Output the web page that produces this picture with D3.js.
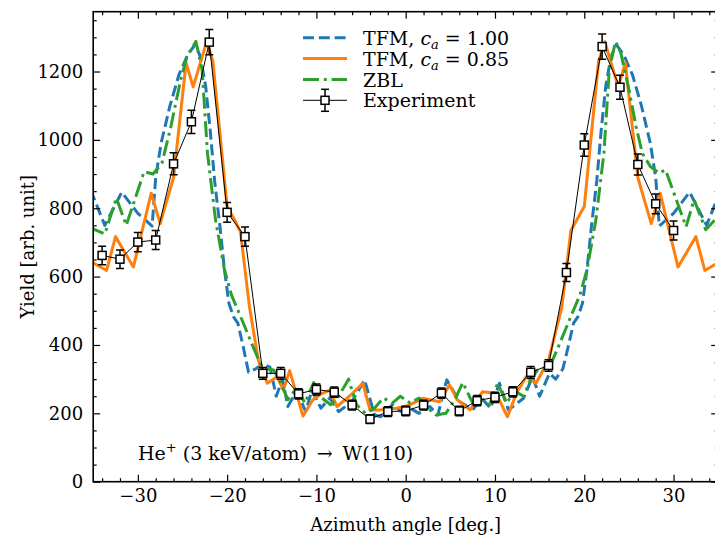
<!DOCTYPE html>
<html><head><meta charset="utf-8">
<script src="https://cdn.jsdelivr.net/npm/d3@7"></script>
<style>
html,body{margin:0;padding:0;background:#fff;}
svg{display:block;}
svg text{font-family:"DejaVu Serif","Liberation Serif",serif !important;fill:#000;}
</style></head><body>
<svg id="chart" width="715" height="538"></svg>
<script>
// ---------- data ----------
const xMajorTicks = [-30,-20,-10,0,10,20,30];
const yMajorTicks = [0,200,400,600,800,1000,1200];

const expAngle = [-34,-32,-30,-28,-26,-24,-22,-20,-18,-16,-14,-12,-10,-8,-6,-4,-2,0,2,4,6,8,10,12,14,16,18,20,22,24,26,28,30];
const expYield = [662,651,701,707,930,1053,1286,788,717,317,317,257,270,262,224,183,205,207,224,259,207,237,247,263,320,340,612,985,1273,1154,928,813,735];
const expError = [27,27,28,28,32,34,37,29,28,17,17,15,16,15,14,13,14,14,14,15,14,15,15,15,17,17,26,33,37,35,31,29,28];

const tfm100Angle = [-35.5,-35,-33.7,-31.8,-30,-28.4,-28,-27.4,-26.4,-25.4,-24.4,-23.6,-23,-22.4,-21.9,-21.4,-20.8,-20.3,-19.8,-19.3,-18.8,-18.2,-17.6,-16.8,-16,-15.2,-14.5,-13.8,-13.2,-12.2,-11.2,-10.5,-9.5,-8.5,-7.5,-6,-4.6,-3.5,-2.8,-1.5,-0.5,0.5,1.5,2.7,3.6,4.6,6,7.5,8.5,9.5,10.5,11.5,12.5,13.2,14.2,15,16.1,16.8,17.6,18.2,18.8,19.3,19.8,20.3,20.8,21.4,21.9,22.4,23,23.6,24.4,25.4,26.4,27.4,28,28.4,30,31.8,33.7,35,35.5];
const tfm100Yield = [850,835,750,847,785,748,890,990,1100,1190,1250,1278,1244,1156,1029,880,746,620,522,483,464,395,320,330,345,335,250,300,220,265,205,268,215,245,205,235,298,195,190,225,205,215,200,220,195,298,235,210,245,215,288,210,230,244,307,250,317,300,330,395,464,483,522,620,746,880,1029,1156,1244,1278,1250,1190,1100,990,890,748,785,847,750,835,850];

const tfm085Angle = [-35.5,-33.5,-32.5,-30.5,-28.5,-27.5,-26,-24.6,-23.8,-22.3,-21.6,-20,-19.2,-18.5,-17.5,-16.5,-15.5,-14.4,-13.7,-13,-11.5,-10.4,-9.4,-8.5,-7.7,-6.3,-4.8,-4,-2.9,-1,0.4,1.9,3.8,4.9,5.8,7.2,8.6,10.1,11.4,12.4,13.5,14.6,16,17.5,18.5,19.2,20,21.6,22.3,23.8,24.6,26,27.5,28.5,30.5,32.5,33.5,35.5];
const tfm085Yield = [648,618,717,628,844,755,890,1225,1155,1287,1230,805,768,730,512,355,288,307,268,325,192,240,258,268,220,250,288,210,210,215,224,244,234,283,239,210,263,259,190,259,307,288,356,512,735,768,805,1230,1287,1155,1225,890,755,844,628,717,618,648];

const zblAngle = [-35.5,-33.7,-32.4,-31.3,-29.3,-28.3,-27.3,-26.3,-25.2,-24.5,-23.5,-22.8,-22.2,-21.3,-20.3,-19.5,-18.6,-17.1,-16.3,-15.9,-14.8,-14,-13.2,-12.2,-11.3,-10.3,-9.4,-8.4,-7.5,-6.4,-5.5,-4.5,-3.5,-2.5,-1.5,-0.6,0.5,1.5,2.5,3.4,4.5,5.5,6.4,7.5,8.5,9.4,10.3,11.3,12.2,13.2,14,14.8,15.9,16.3,17.1,18.6,19.5,20.3,21.3,22.2,22.8,23.5,24.1,25,25.8,26.5,27.4,28.4,29.1,31.4,32.3,33.6,35.5];
const zblYield = [745,725,830,750,907,900,932,1039,1176,1244,1288,1205,961,766,620,545,490,395,347,332,327,290,240,275,230,290,245,225,250,300,225,200,215,245,230,250,230,245,215,195,200,240,290,230,240,225,288,230,265,250,300,327,332,347,395,490,545,620,766,961,1205,1288,1254,1147,1039,961,922,903,912,746,825,737,790];

const seriesNames = ["TFM, c_a = 1.00","TFM, c_a = 0.85","ZBL","Experiment"];
const seriesColors = ["#1f77b4","#ff7f0e","#2ca02c","#000000"];

// ---------- layout ----------
const FONT = '"DejaVu Serif","Liberation Serif",serif';
const svg = d3.select("#chart").attr("font-family",FONT);
const L = 93.2, R = 718.2, T = 11.7, B = 481.7;
const x = d3.scaleLinear().domain([-35,35]).range([L,R]);
const y = d3.scaleLinear().domain([0,1375]).range([B,T]);

svg.append("defs").append("clipPath").attr("id","plotclip")
  .append("rect").attr("x",L).attr("y",T).attr("width",R-L).attr("height",B-T);

const zip = (a,b)=>a.map((v,i)=>[v,b[i]]);
const line = d3.line().x(d=>x(d[0])).y(d=>y(d[1]));
const g = svg.append("g").attr("clip-path","url(#plotclip)");

const theory = [
  {pts: zip(tfm100Angle,tfm100Yield), color: seriesColors[0], dash: "11,4.8"},
  {pts: zip(tfm085Angle,tfm085Yield), color: seriesColors[1], dash: null},
  {pts: zip(zblAngle,zblYield), color: seriesColors[2], dash: "16,4.8,3,4.8"}
];
theory.forEach(s=>{
  const p = g.append("path").attr("d",line(s.pts)).attr("fill","none")
    .attr("stroke",s.color).attr("stroke-width",3).attr("stroke-linejoin","round");
  if (s.dash) p.attr("stroke-dasharray",s.dash); else p.attr("stroke-linecap","round");
});

// experiment
const expPts = zip(expAngle,expYield);
g.append("path").attr("d",line(expPts)).attr("fill","none").attr("stroke","#000").attr("stroke-width",1);
const eb = g.append("g");
expPts.forEach((d,i)=>{
  const cx = x(d[0]), y0 = y(d[1]-expError[i]), y1 = y(d[1]+expError[i]);
  eb.append("line").attr("x1",cx).attr("x2",cx).attr("y1",y0).attr("y2",y1).attr("stroke","#000").attr("stroke-width",1.5);
  eb.append("line").attr("x1",cx-4).attr("x2",cx+4).attr("y1",y0).attr("y2",y0).attr("stroke","#000").attr("stroke-width",1.5);
  eb.append("line").attr("x1",cx-4).attr("x2",cx+4).attr("y1",y1).attr("y2",y1).attr("stroke","#000").attr("stroke-width",1.5);
  eb.append("rect").attr("x",cx-4).attr("y",y(d[1])-4).attr("width",8).attr("height",8)
    .attr("fill","#fff").attr("stroke","#000").attr("stroke-width",1.5);
});

// ---------- axes ----------
const xMinor = d3.range(-34,35,2).filter(v=>v%10!==0);
const yMinor = d3.range(50,1376,50).filter(v=>v%200!==0);
function styleAxis(sel, fs){
  sel.attr("font-family",FONT);
  sel.select(".domain").remove();
  sel.selectAll(".tick line").attr("stroke","#000").attr("stroke-width",1.2);
  sel.selectAll(".tick text").style("font-size",fs+"px").style("font-family",FONT).attr("fill","#000");
}
const fmt = d=> d<0 ? "\u2212"+Math.abs(d) : String(d);
const TF = 18;
svg.append("g").attr("transform",`translate(0,${B})`)
  .call(d3.axisBottom(x).tickValues(xMajorTicks).tickSize(-7).tickPadding(8).tickFormat(fmt))
  .call(s=>styleAxis(s,TF));
svg.append("g").attr("transform",`translate(0,${B})`)
  .call(d3.axisBottom(x).tickValues(xMinor).tickSize(-3.5).tickFormat(""))
  .call(s=>styleAxis(s,TF));
svg.append("g").attr("transform",`translate(0,${T})`)
  .call(d3.axisTop(x).tickValues(xMajorTicks).tickSize(-7).tickFormat(""))
  .call(s=>styleAxis(s,TF));
svg.append("g").attr("transform",`translate(0,${T})`)
  .call(d3.axisTop(x).tickValues(xMinor).tickSize(-3.5).tickFormat(""))
  .call(s=>styleAxis(s,TF));
svg.append("g").attr("transform",`translate(${L},0)`)
  .call(d3.axisLeft(y).tickValues(yMajorTicks).tickSize(-7).tickPadding(10).tickFormat(fmt))
  .call(s=>styleAxis(s,TF));
svg.append("g").attr("transform",`translate(${L},0)`)
  .call(d3.axisLeft(y).tickValues(yMinor).tickSize(-3.5).tickFormat(""))
  .call(s=>styleAxis(s,TF));
svg.append("g").attr("transform",`translate(${R},0)`)
  .call(d3.axisRight(y).tickValues(yMajorTicks).tickSize(-7).tickFormat(""))
  .call(s=>styleAxis(s,TF));
svg.append("g").attr("transform",`translate(${R},0)`)
  .call(d3.axisRight(y).tickValues(yMinor).tickSize(-3.5).tickFormat(""))
  .call(s=>styleAxis(s,TF));
svg.append("rect").attr("x",L).attr("y",T).attr("width",R-L).attr("height",B-T)
  .attr("fill","none").attr("stroke","#000").attr("stroke-width",1.6);

// axis labels
svg.append("text").attr("x",(L+R)/2).attr("y",531).attr("text-anchor","middle")
  .style("font-size","18px").text("Azimuth angle [deg.]");
svg.append("text").attr("transform",`translate(34,${(T+B)/2}) rotate(-90)`).attr("text-anchor","middle")
  .style("font-size","18px").text("Yield [arb. unit]");

// annotation
const ann = svg.append("text").attr("x",138).attr("y",460).style("font-size","19px");
ann.append("tspan").text("He");
ann.append("tspan").attr("dy",-8).style("font-size","13px").text("+");
ann.append("tspan").attr("dy",8).text(" (3 keV/atom) \u2009\u2192\u2009 W(110)");

// legend
const lg = svg.append("g");
const rowY = [37.7,58.5,79.5,100.3];
const lx0 = 303, lx1 = 347, tx = 363;
function mathLabel(t, val){
  t.append("tspan").text("TFM, ");
  t.append("tspan").style("font-style","italic").text("c");
  t.append("tspan").style("font-style","italic").style("font-size","13px").attr("dy",4).text("a");
  t.append("tspan").attr("dy",-4).text(" = "+val);
}
[0,1,2].forEach(i=>{
  const s = theory[i];
  const l = lg.append("line").attr("x1",lx0).attr("x2",lx1).attr("y1",rowY[i]).attr("y2",rowY[i])
    .attr("stroke",s.color).attr("stroke-width",3);
  if (s.dash) l.attr("stroke-dasharray",s.dash);
  const t = lg.append("text").attr("x",tx).attr("y",rowY[i]+7).style("font-size","19px");
  if (i===0) mathLabel(t, seriesNames[0].split("= ")[1]);
  else if (i===1) mathLabel(t, seriesNames[1].split("= ")[1]);
  else t.text(seriesNames[2]);
});
{
  const yy = rowY[3], cx = (lx0+lx1)/2;
  lg.append("line").attr("x1",lx0).attr("x2",lx1).attr("y1",yy).attr("y2",yy).attr("stroke","#000").attr("stroke-width",1);
  lg.append("line").attr("x1",cx).attr("x2",cx).attr("y1",yy-11).attr("y2",yy+11).attr("stroke","#000").attr("stroke-width",1.5);
  lg.append("line").attr("x1",cx-4).attr("x2",cx+4).attr("y1",yy-11).attr("y2",yy-11).attr("stroke","#000").attr("stroke-width",1.5);
  lg.append("line").attr("x1",cx-4).attr("x2",cx+4).attr("y1",yy+11).attr("y2",yy+11).attr("stroke","#000").attr("stroke-width",1.5);
  lg.append("rect").attr("x",cx-4).attr("y",yy-4).attr("width",8).attr("height",8).attr("fill","#fff").attr("stroke","#000").attr("stroke-width",1.5);
  lg.append("text").attr("x",tx).attr("y",yy+7).style("font-size","19px").text(seriesNames[3]);
}
</script>
</body></html>
